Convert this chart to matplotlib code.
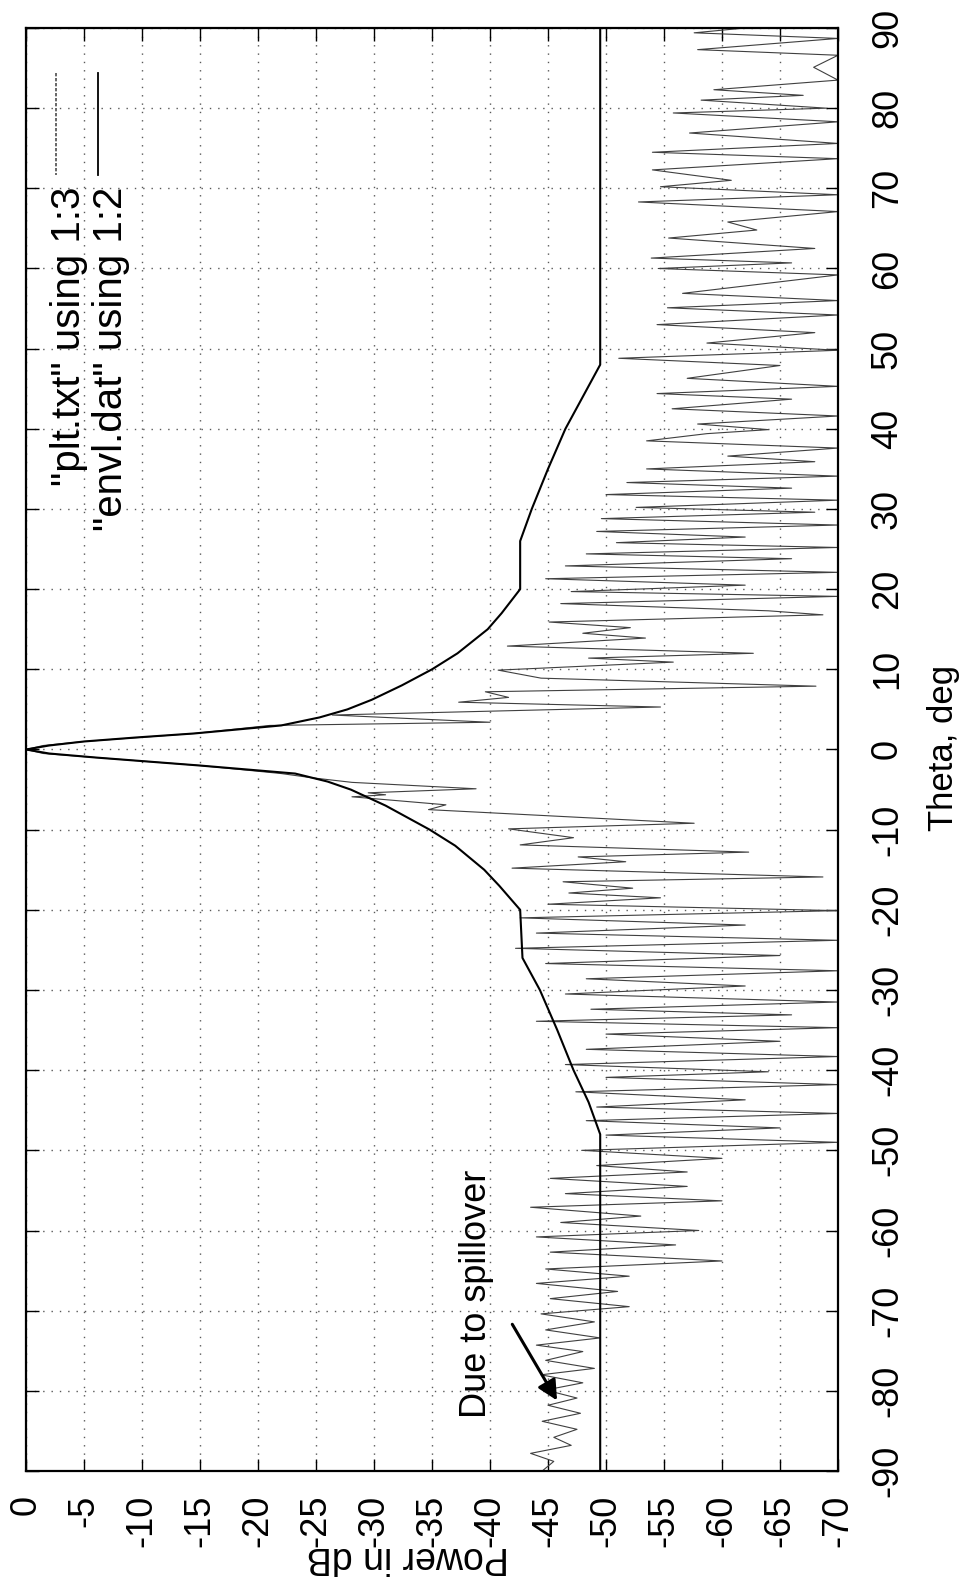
import matplotlib.pyplot as plt
import numpy as np
from matplotlib.lines import Line2D

plt.rcParams['font.family'] = ['Liberation Sans', 'DejaVu Sans']
plt.rcParams['axes.unicode_minus'] = False

# "envl.dat" using 1:2  (theta deg, power dB)
env_theta = [-90, -48, -44, -40, -35, -30, -26, -20, -17, -15, -12, -10, -7, -5, -4, -3, -2, -1.5, -1, -0.5, 0,
             0.5, 1, 1.5, 2, 3, 4, 5, 6.2, 8, 10, 12, 15, 17, 20, 26, 30, 35, 40, 44, 48, 90]
env_power = [-49.5, -49.5, -48.5, -47.2, -45.8, -44.3, -42.8, -42.6, -40.8, -39.5, -37, -34.8, -31, -28, -26, -23.2, -15, -10.5, -6, -2, 0,
             -2, -5, -9.5, -14.5, -22, -25.3, -27.7, -29.8, -32.4, -35, -37.2, -39.8, -41, -42.6, -42.6, -43.6, -45, -46.5, -48, -49.5, -49.5]

# "plt.txt" using 1:3
pat_theta = [90.0, 89.4, 88.7, 87.3, 86.6, 85.1, 83.5, 82.3, 81.6, 81.0, 80.0, 79.4, 78.3, 76.9, 75.6, 74.5,
             73.7, 72.3, 71.0, 70.2, 69.2, 68.3, 67.1, 65.8, 64.8, 63.8, 62.5, 61.3, 60.7, 60.0, 59.2, 56.9,
             56.0, 55.1, 54.2, 53.0, 52.0, 50.7, 49.8, 48.8, 47.9, 46.3, 45.3, 44.4, 43.7, 42.5, 41.6, 40.6,
             39.9, 39.4, 38.5, 37.6, 36.6, 35.9, 35.0, 34.1, 33.3, 32.6, 31.8, 31.1, 30.2, 29.6, 28.8, 28.0,
             27.2, 26.5, 25.8, 25.2, 24.4, 23.8, 22.9, 22.1, 21.3, 20.5, 19.7, 19.1, 18.2, 17.3, 16.8, 15.9,
             15.2, 14.5, 13.9, 12.9, 12.0, 11.4, 10.9, 9.9, 8.9, 7.9, 7.2, 6.5, 5.9, 5.3, 4.3, 3.4,
             3.0, 2.0, 1.0, 0.5, 0.0, -0.5, -1.0, -2.0, -3.0, -3.5, -4.1, -4.9, -5.4, -5.65, -5.9, -6.9,
             -7.5, -9.2, -9.9, -11.0, -11.9, -12.8, -13.4, -14.0, -14.8, -15.9, -16.5, -17.3, -17.9, -18.5, -19.3, -20.1,
             -21.0, -21.9, -22.9, -23.8, -24.8, -25.7, -26.7, -27.6, -28.6, -29.5, -30.5, -31.5, -32.4, -33.1, -33.9, -34.7,
             -35.5, -36.4, -37.4, -38.3, -39.3, -40.2, -40.9, -41.8, -42.7, -43.7, -44.6, -45.4, -46.3, -47.2, -48.1, -49.0,
             -50.0, -51.0, -51.9, -52.7, -53.5, -54.5, -55.4, -56.3, -57.1, -58.2, -59.0, -60.0, -60.8, -61.8, -62.7, -63.8,
             -64.8, -65.7, -66.6, -67.6, -68.5, -69.5, -70.4, -71.4, -72.4, -73.4, -74.3, -75.1, -76.2, -77.2, -78.0, -79.0,
             -79.9, -80.9, -81.8, -82.8, -83.8, -84.8, -85.8, -86.8, -87.8, -88.8, -90.0]
pat_power = [-62, -57.6, -70, -57.9, -70, -67.9, -70, -59.3, -67, -58.2, -69, -55.8, -70, -57.2, -70, -54.0,
             -70, -54.0, -60.8, -54.7, -70, -52.8, -70, -60.5, -63, -55.4, -68, -53.9, -66, -54.5, -70, -56.6,
             -70, -55.3, -70, -54.4, -68, -58.7, -70, -51.1, -65, -57, -70, -54.4, -66, -55.7, -70, -57.9,
             -64, -58.7, -53.5, -70, -60.5, -68, -53.5, -70, -51.8, -66, -50.0, -70, -52.6, -68, -49.6, -70,
             -49.2, -62, -50.9, -70, -48.3, -66, -46.5, -70, -44.8, -62, -47.0, -70, -46.1, -64, -68.7, -45.1,
             -52.1, -48.0, -53.4, -41.5, -62.7, -48.5, -55.8, -40.7, -44.4, -68.1, -39.6, -41.6, -37.3, -54.7, -26.4, -40.0,
             -21.0, -14.5, -5.0, -1.5, 0.0, -1.5, -6.0, -15.0, -22.0, -24.5, -28.1, -38.8, -29.5, -31.0, -28.1, -36.2,
             -34.7, -57.6, -41.6, -47.2, -42.6, -62.3, -47.6, -51.7, -41.9, -68.7, -46.3, -52.3, -46.8, -54.7, -45.0, -70,
             -42.6, -62, -44.0, -70, -42.2, -65, -44.8, -70, -48.3, -62, -46.5, -70, -48.7, -66, -44.0, -70,
             -50.0, -65, -48.3, -70, -46.5, -64, -50.0, -70, -47.4, -62, -49.2, -70, -48.3, -65, -50.0, -70,
             -47.9, -60, -49.2, -57, -45.2, -57, -46.5, -60, -43.5, -53, -46.1, -58, -44.0, -56, -45.2, -60,
             -44.8, -52, -44.0, -51, -45.2, -52, -44.4, -49, -44.8, -49.5, -44.0, -48, -44.8, -49, -44.4, -48,
             -44.8, -47.5, -45.0, -47.8, -44.5, -47.5, -45.5, -47.0, -43.5, -45.5, -44.5]

fig = plt.figure(figsize=(9.68, 15.82), dpi=100)
ax = fig.add_axes([26 / 968, 1 - 1471 / 1582, (838 - 26) / 968, (1471 - 28) / 1582])

ax.plot(pat_power, pat_theta, color='0.25', lw=0.8)
ax.plot(env_power, env_theta, color='k', lw=1.5)

ax.set_xlim(0, -70)
ax.set_ylim(-90, 90)
pw_ticks = np.arange(0, -71, -5)
th_ticks = np.arange(-90, 91, 10)
ax.set_xticks(pw_ticks)
ax.set_xticklabels([str(v) for v in pw_ticks], rotation=90, fontsize=26)
ax.set_yticks(th_ticks)
ax.set_yticklabels([str(v) for v in th_ticks], rotation=90, va='center', fontsize=26)
ax.yaxis.tick_right()
ax.tick_params(axis='x', direction='in', length=9, width=1, top=True, bottom=True, pad=17)
ax.tick_params(axis='y', direction='in', length=9, width=1, left=True, right=True, pad=23)
ax.grid(True, ls=(0, (1, 5)), color='0.35', lw=1.0)
for s in ax.spines.values():
    s.set_linewidth(1.6)

fig.text(408 / 968, 1 - 1557 / 1582, 'Power in dB', rotation=180, ha='center', va='center', fontsize=27)
fig.text(943 / 968, 1 - 748 / 1582, 'Theta, deg', rotation=90, ha='center', va='center', fontsize=25)

# legend, drawn rotated like the rest of the page
fig.text(50 / 968, 1 - 187 / 1582, '"plt.txt" using 1:3', rotation=90, ha='left', va='top', fontsize=29)
fig.text(92 / 968, 1 - 187 / 1582, '"envl.dat" using 1:2', rotation=90, ha='left', va='top', fontsize=29)
fig.add_artist(Line2D([56 / 968, 56 / 968], [1 - 73 / 1582, 1 - 175 / 1582], color='0.3', lw=1.2, ls=(0, (2, 1))))
fig.add_artist(Line2D([98 / 968, 98 / 968], [1 - 73 / 1582, 1 - 175 / 1582], color='k', lw=1.3))

ax.annotate('', xy=(-45.9, -81.5), xytext=(-41.8, -71.4),
            arrowprops=dict(arrowstyle='-|>', color='k', lw=2.2, mutation_scale=30))
ax.text(-37.3, -67.9, 'Due to spillover', rotation=90, ha='left', va='center', fontsize=26)

fig.savefig('out.png', dpi=100)
